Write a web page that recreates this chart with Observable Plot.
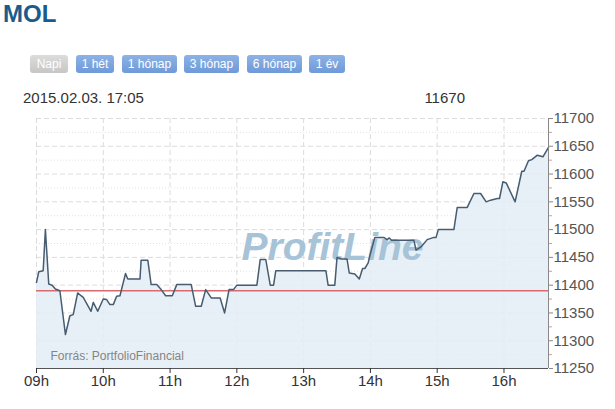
<!DOCTYPE html>
<html>
<head>
<meta charset="utf-8">
<script src="https://cdn.jsdelivr.net/npm/d3@7"></script>
<script src="https://cdn.jsdelivr.net/npm/@observablehq/plot@0.6"></script>
<style>
  body { margin: 0; background: #fff; font-family: "Liberation Sans", Arial, sans-serif; }
  #wrap { position: relative; width: 615px; height: 409px; overflow: hidden; }
  #header { position: relative; width: 615px; height: 110px; }
  #title { position: absolute; left: 3px; top: 2px; font-size: 24px; line-height: 24px; font-weight: bold; color: #1b5b8c; }
  .btn { position: absolute; top: 55px; height: 18px; line-height: 18px; font-size: 12px; color: #fff; text-align: center;
         border-radius: 3px; background: linear-gradient(#8db2e6, #6e9ad8); }
  .btn.off { background: linear-gradient(#dcdcdc, #c6c6c6); }
  #date { position: absolute; left: 23px; top: 90px; font-size: 15px; line-height: 15px; color: #333; }
  #last { position: absolute; right: 150px; top: 90px; font-size: 15px; line-height: 15px; color: #333; }
  svg { display: block; }
</style>
</head>
<body>
<div id="wrap">
  <div id="header">
    <div id="title">MOL</div>
    <div id="buttons"></div>
    <div id="date"></div>
    <div id="last"></div>
  </div>
  <div id="chart"></div>
</div>
<script>
const title = "MOL";
const buttonLabels = ["Napi", "1 hét", "1 hónap", "3 hónap", "6 hónap", "1 év"];
const buttonLeft = [30, 76, 122, 184, 247, 309];
const buttonWidth = [38, 38, 55, 55, 55, 36];
const dateLabel = "2015.02.03. 17:05";
const lastLabel = "11670";
const sourceLabel = "Forrás: PortfolioFinancial";
const watermark = "ProfitLine";
const prevClose = 11390;

const times = ["09:00","09:02","09:06","09:08","09:11","09:14","09:17","09:21","09:26","09:30","09:33","09:37","09:40","09:42","09:49","09:51","09:55","10:00","10:03","10:06","10:09","10:12","10:15","10:20","10:22","10:33","10:34","10:40","10:43","10:48","10:52","10:56","11:02","11:06","11:19","11:23","11:28","11:32","11:37","11:45","11:49","11:53","11:57","12:00","12:18","12:21","12:26","12:30","12:33","12:35","13:20","13:22","13:28","13:30","13:34","13:39","13:41","13:46","13:50","13:53","13:55","13:58","14:00","14:04","14:12","14:15","14:17","14:19","14:39","14:41","14:46","14:51","14:57","14:59","15:01","15:15","15:18","15:27","15:33","15:39","15:44","15:48","15:54","15:56","15:59","16:02","16:10","16:16","16:18","16:22","16:25","16:30","16:35","16:40"];
const prices = [11405,11424,11426,11500,11402,11400,11393,11390,11311,11345,11347,11386,11381,11378,11353,11369,11353,11375,11374,11365,11365,11380,11381,11421,11411,11411,11445,11445,11401,11401,11392,11381,11381,11401,11401,11362,11362,11392,11377,11377,11350,11392,11392,11400,11400,11446,11446,11400,11400,11426,11426,11400,11400,11450,11447,11447,11422,11420,11411,11430,11430,11440,11457,11486,11486,11482,11485,11481,11481,11463,11470,11482,11486,11486,11500,11500,11540,11540,11565,11565,11550,11553,11556,11556,11586,11584,11550,11605,11605,11624,11626,11634,11631,11648];
const yTicks = [11250,11300,11350,11400,11450,11500,11550,11600,11650,11700];
const yMinor = [11275,11325,11375,11425,11475,11525,11575,11625,11675];
const xStart = "09:00", xEnd = "16:40";

// header
document.getElementById("date").textContent = dateLabel;
document.getElementById("last").textContent = lastLabel;
const bwrap = document.getElementById("buttons");
buttonLabels.forEach((t, i) => {
  const d = document.createElement("div");
  d.className = "btn" + (i === 0 ? " off" : "");
  d.style.left = buttonLeft[i] + "px";
  d.style.width = buttonWidth[i] + "px";
  d.textContent = t;
  bwrap.appendChild(d);
});

const parse = s => { const [h, m] = s.split(":").map(Number); return new Date(2015, 1, 3, h, m); };
const data = times.map((t, i) => ({date: parse(t), value: prices[i]}));
const t0 = parse(xStart), t1 = parse(xEnd);
const hours = d3.timeHour.range(t0, d3.timeMinute.offset(t1, 1));
const font = "Liberation Sans, Arial, sans-serif";

const chart = Plot.plot({
  width: 615,
  height: 299,
  marginLeft: 36,
  marginRight: 67,
  marginTop: 8,
  marginBottom: 41,
  style: {fontFamily: font, background: "#fff"},
  x: {type: "time", domain: [t0, t1]},
  y: {domain: [11250, 11700]},
  marks: [
    Plot.ruleY(yMinor, {stroke: "#e2e2e2", strokeDasharray: "1,2"}),
    Plot.ruleY(yTicks, {stroke: "#dcdcdc", strokeDasharray: "5,3"}),
    Plot.ruleX(hours, {stroke: "#dcdcdc", strokeDasharray: "5,3"}),
    Plot.areaY(data, {x: "date", y1: 11250, y2: "value", fill: "#e4edf6", fillOpacity: 0.85}),
    Plot.text([watermark], {frameAnchor: "middle", dx: 40, dy: 4, fontSize: 39, fontWeight: "bold", fontStyle: "italic", fill: "#a7c3d8", fontFamily: font}),
    Plot.ruleY([prevClose], {stroke: "#d66a6e", strokeWidth: 1.5}),
    Plot.lineY(data, {x: "date", y: "value", stroke: "#475c70", strokeWidth: 1.5}),
    Plot.text([sourceLabel], {frameAnchor: "bottom-left", dx: 14, dy: -9, fontSize: 12, fill: "#858585", fontFamily: font}),
    Plot.ruleY([11250], {stroke: "#555", strokeWidth: 1}),
    Plot.ruleX([t1], {stroke: "#888", strokeWidth: 1}),
    Plot.axisX({ticks: hours, tickFormat: d3.timeFormat("%Hh"), tickSize: 5, tickPadding: 2, fontSize: 15, color: "#333", label: null}),
    Plot.axisY({anchor: "right", ticks: yTicks, tickSize: 4, tickPadding: 1, fontSize: 15, color: "#555", stroke: "#888", label: null, tickFormat: d => String(d)}),
    Plot.axisY({anchor: "right", ticks: yMinor, tickSize: 3, tickFormat: () => "", stroke: "#d99a9a", label: null})
  ]
});
document.getElementById("chart").appendChild(chart);
</script>
</body>
</html>
